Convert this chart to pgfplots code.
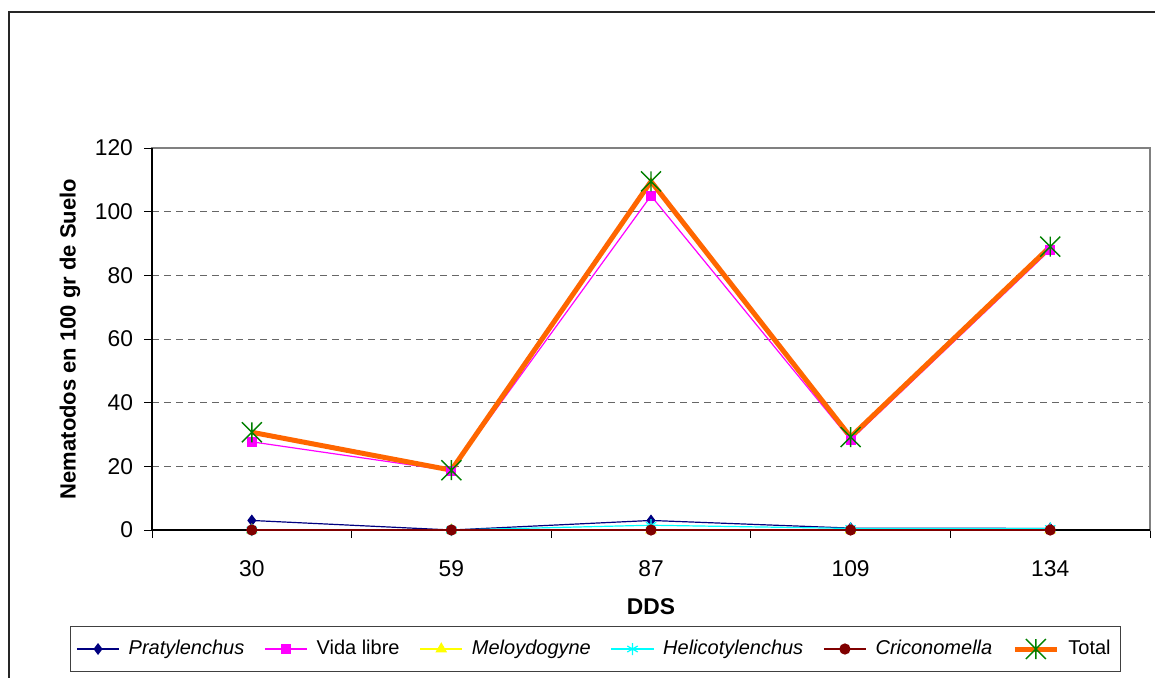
\documentclass[border=0pt]{standalone}
\usepackage{fontspec}
\setmainfont{Liberation Sans}
\usepackage{pgfplots}
\pgfplotsset{compat=1.18}

\definecolor{praty}{RGB}{0,0,128}
\definecolor{vida}{RGB}{255,0,255}
\definecolor{meloy}{RGB}{255,255,0}
\definecolor{helico}{RGB}{0,255,255}
\definecolor{cricon}{RGB}{128,0,0}
\definecolor{total}{RGB}{255,102,0}
\definecolor{totalmk}{RGB}{0,128,0}

% Excel style star: an X with a vertical bar
\pgfdeclareplotmark{xstar}{%
  \pgfpathmoveto{\pgfqpoint{-\pgfplotmarksize}{-\pgfplotmarksize}}%
  \pgfpathlineto{\pgfqpoint{\pgfplotmarksize}{\pgfplotmarksize}}%
  \pgfpathmoveto{\pgfqpoint{-\pgfplotmarksize}{\pgfplotmarksize}}%
  \pgfpathlineto{\pgfqpoint{\pgfplotmarksize}{-\pgfplotmarksize}}%
  \pgfpathmoveto{\pgfqpoint{0pt}{-\pgfplotmarksize}}%
  \pgfpathlineto{\pgfqpoint{0pt}{\pgfplotmarksize}}%
  \pgfusepathqstroke}

\begin{document}
\begin{tikzpicture}
\useasboundingbox (0,0) rectangle (577.5pt,338.5pt);
% chart area frame (runs off the right and bottom edges)
\draw[line width=0.6pt, black!85] (4.5pt,-20pt) -- (4.5pt,332.5pt) -- (600pt,332.5pt);

\begin{axis}[
  at={(76pt,73.5pt)}, anchor=south west,
  scale only axis, width=499pt, height=191pt,
  xmin=0, xmax=5, ymin=0, ymax=120,
  xtick={0,1,2,3,4,5}, xticklabels={},
  extra x ticks={0.5,1.5,2.5,3.5,4.5},
  extra x tick labels={30,59,87,109,134},
  extra x tick style={major tick length=0pt, xticklabel style={yshift=-12pt}},
  ytick={0,20,...,120},
  xtick pos=left, ytick pos=left,
  tick align=outside, major tick length=4pt,
  tick style={black, line width=0.5pt},
  axis line style={black!50, line width=0.6pt},
  ymajorgrids, grid style={black!60, dash pattern=on 3.5pt off 2.5pt, line width=0.5pt},
  /pgf/number format/assume math mode=true,
  tick label style={font=\fontsize{11.4}{13}\selectfont},
  yticklabel style={xshift=-2pt},
  xlabel={\bfseries DDS},
  xlabel style={at={(axis description cs:0.5,0)}, anchor=center, yshift=-38.5pt, font=\fontsize{11.4}{13}\selectfont},
  ylabel={\bfseries Nematodos en 100 gr de Suelo},
  ylabel style={at={(axis description cs:-0.0822,0.5)}, anchor=center, font=\fontsize{11}{13}\selectfont},
  clip=false,
  legend columns=6,
  legend style={at={(axis description cs:0.4444,-0.3115)}, anchor=center,
    draw=black!75, line width=0.5pt, font=\fontsize{10}{12}\selectfont,
    inner xsep=3pt, inner ysep=5pt,
    /tikz/every odd column/.append style={column sep=2.5pt},
    /tikz/every even column/.append style={column sep=8pt}},
  legend image code/.code={\draw[mark repeat=2,mark phase=2,#1]
    plot coordinates {(0cm,0cm) (0.37cm,0cm) (0.74cm,0cm)};},
]
\draw[black, line width=0.6pt] (rel axis cs:0,1) -- (rel axis cs:0,0) -- (rel axis cs:1,0);

\addplot[draw=praty, line width=0.6pt, mark=diamond*, mark size=2.5pt, mark options={draw=praty, fill=praty}]
  coordinates {(0.5,3) (1.5,0) (2.5,3) (3.5,0.6) (4.5,0.5)};
\addlegendentry{\textit{Pratylenchus}}

\addplot[draw=vida, line width=0.6pt, mark=square*, mark size=2.2pt, mark options={draw=vida, fill=vida}]
  coordinates {(0.5,27.7) (1.5,18.6) (2.5,105) (3.5,28.3) (4.5,88)};
\addlegendentry{Vida libre}

\addplot[draw=meloy, line width=0.6pt, mark=triangle*, mark size=2.8pt, mark options={draw=meloy, fill=meloy}]
  coordinates {(0.5,0) (1.5,0) (2.5,0) (3.5,0) (4.5,0)};
\addlegendentry{\textit{Meloydogyne}}

\addplot[draw=helico, line width=0.6pt, mark=asterisk, mark size=3pt, mark options={draw=helico}]
  coordinates {(0.5,0) (1.5,0) (2.5,1.5) (3.5,0.5) (4.5,0.5)};
\addlegendentry{\textit{Helicotylenchus}}

\addplot[draw=cricon, line width=0.6pt, mark=*, mark size=2.5pt, mark options={draw=cricon, fill=cricon}]
  coordinates {(0.5,0) (1.5,0) (2.5,0) (3.5,0) (4.5,0)};
\addlegendentry{\textit{Criconomella}}

\addplot[draw=total, line width=2.5pt, mark=xstar, mark size=5pt,
  mark options={draw=totalmk, line width=0.7pt}]
  coordinates {(0.5,30.7) (1.5,18.8) (2.5,109.5) (3.5,29.2) (4.5,89)};
\addlegendentry{Total}
\end{axis}
\end{tikzpicture}
\end{document}
